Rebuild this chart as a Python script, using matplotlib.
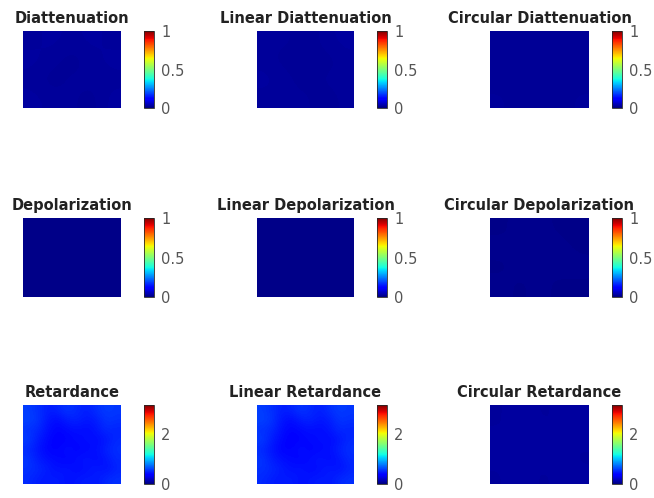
import numpy as np
import matplotlib
matplotlib.use("Agg")
import matplotlib.pyplot as plt

# Panel titles, laid out row by row
titles = [
    "Diattenuation", "Linear Diattenuation", "Circular Diattenuation",
    "Depolarization", "Linear Depolarization", "Circular Depolarization",
    "Retardance", "Linear Retardance", "Circular Retardance",
]

# Colour limits and colorbar ticks for each row
row_clim = [(0.0, 1.0), (0.0, 1.0), (0.0, np.pi)]
row_ticks = [[0, 0.5, 1], [0, 0.5, 1], [0, 2]]
row_ticklabels = [["0", "0.5", "1"], ["0", "0.5", "1"], ["0", "2"]]

# Coarse maps of each polarization property (rows top to bottom)
diattenuation = [
    [0.025, 0.030, 0.025, 0.030, 0.025],
    [0.030, 0.025, 0.020, 0.025, 0.030],
    [0.025, 0.020, 0.025, 0.025, 0.025],
    [0.030, 0.025, 0.025, 0.020, 0.030],
]
linear_diattenuation = [
    [0.025, 0.025, 0.020, 0.025, 0.030],
    [0.025, 0.020, 0.025, 0.020, 0.025],
    [0.030, 0.025, 0.020, 0.025, 0.025],
    [0.025, 0.025, 0.025, 0.020, 0.025],
]
circular_diattenuation = [
    [0.020, 0.025, 0.020, 0.025, 0.020],
    [0.025, 0.020, 0.025, 0.020, 0.025],
    [0.020, 0.025, 0.020, 0.025, 0.020],
    [0.025, 0.020, 0.025, 0.020, 0.025],
]
depolarization = [
    [0.010, 0.010, 0.010, 0.010, 0.010],
    [0.010, 0.010, 0.010, 0.010, 0.010],
    [0.010, 0.010, 0.010, 0.010, 0.010],
    [0.010, 0.010, 0.010, 0.010, 0.010],
]
linear_depolarization = [
    [0.010, 0.010, 0.010, 0.010, 0.010],
    [0.010, 0.012, 0.010, 0.010, 0.010],
    [0.010, 0.010, 0.010, 0.012, 0.010],
    [0.010, 0.010, 0.010, 0.010, 0.010],
]
circular_depolarization = [
    [0.010, 0.014, 0.014, 0.010, 0.010],
    [0.014, 0.010, 0.014, 0.014, 0.010],
    [0.010, 0.014, 0.010, 0.014, 0.014],
    [0.014, 0.010, 0.014, 0.010, 0.010],
]
retardance = [
    [0.58, 0.54, 0.48, 0.50, 0.56, 0.52, 0.48, 0.54, 0.58, 0.56],
    [0.60, 0.56, 0.46, 0.42, 0.48, 0.50, 0.46, 0.48, 0.56, 0.54],
    [0.54, 0.52, 0.44, 0.40, 0.42, 0.44, 0.42, 0.46, 0.52, 0.50],
    [0.58, 0.48, 0.42, 0.38, 0.40, 0.42, 0.44, 0.42, 0.46, 0.52],
    [0.52, 0.46, 0.40, 0.40, 0.44, 0.40, 0.42, 0.44, 0.50, 0.54],
    [0.56, 0.48, 0.44, 0.42, 0.40, 0.44, 0.46, 0.42, 0.46, 0.52],
    [0.54, 0.52, 0.48, 0.44, 0.46, 0.42, 0.44, 0.48, 0.44, 0.50],
    [0.52, 0.48, 0.46, 0.48, 0.44, 0.46, 0.48, 0.46, 0.52, 0.54],
]
linear_retardance = [
    [0.58, 0.54, 0.48, 0.50, 0.56, 0.52, 0.48, 0.54, 0.58, 0.56],
    [0.60, 0.56, 0.46, 0.42, 0.48, 0.50, 0.46, 0.48, 0.56, 0.54],
    [0.54, 0.52, 0.44, 0.40, 0.42, 0.44, 0.42, 0.46, 0.52, 0.50],
    [0.58, 0.48, 0.42, 0.38, 0.40, 0.42, 0.44, 0.42, 0.46, 0.52],
    [0.52, 0.46, 0.40, 0.40, 0.44, 0.40, 0.42, 0.44, 0.50, 0.54],
    [0.56, 0.48, 0.44, 0.42, 0.40, 0.44, 0.46, 0.42, 0.46, 0.52],
    [0.54, 0.52, 0.48, 0.44, 0.46, 0.42, 0.44, 0.48, 0.44, 0.50],
    [0.52, 0.48, 0.46, 0.48, 0.44, 0.46, 0.48, 0.46, 0.52, 0.54],
]
circular_retardance = [
    [0.08, 0.10, 0.09, 0.08, 0.10, 0.09],
    [0.09, 0.08, 0.10, 0.09, 0.08, 0.10],
    [0.10, 0.09, 0.08, 0.10, 0.09, 0.08],
    [0.08, 0.10, 0.09, 0.08, 0.10, 0.09],
]

maps = [
    diattenuation, linear_diattenuation, circular_diattenuation,
    depolarization, linear_depolarization, circular_depolarization,
    retardance, linear_retardance, circular_retardance,
]

W, H = 654, 498
fig = plt.figure(figsize=(W / 100, H / 100), dpi=100)
fig.patch.set_facecolor("white")

# Pixel boxes (left, right) of the image axes and colorbars; (top, bottom) per row
img_x = [(23, 121), (257, 354), (490, 589)]
cb_x = [(144, 154), (377, 387), (612, 622)]
row_y = [(31, 108), (218, 297), (405, 484)]


def px_rect(x0, x1, y0, y1):
    return [x0 / W, 1 - y1 / H, (x1 - x0) / W, (y1 - y0) / H]


for idx, (title, data) in enumerate(zip(titles, maps)):
    r, c = divmod(idx, 3)
    vmin, vmax = row_clim[r]
    y0, y1 = row_y[r]

    ax = fig.add_axes(px_rect(*img_x[c], y0, y1))
    im = ax.imshow(np.asarray(data), cmap="jet", vmin=vmin, vmax=vmax,
                   aspect="auto", interpolation="bicubic")
    ax.set_axis_off()
    ax.set_title(title, fontsize=10.5, fontweight="bold", color="#222222",
                 family="DejaVu Sans", pad=6)

    cax = fig.add_axes(px_rect(*cb_x[c], y0, y1))
    cb = fig.colorbar(im, cax=cax)
    cb.set_ticks(row_ticks[r])
    cb.set_ticklabels(row_ticklabels[r])
    cb.ax.tick_params(length=0, pad=5, labelsize=10.5, labelcolor="#555555")
    cb.outline.set_linewidth(0.6)
    cb.outline.set_edgecolor("#262626")

fig.savefig("out.png", dpi=100)
